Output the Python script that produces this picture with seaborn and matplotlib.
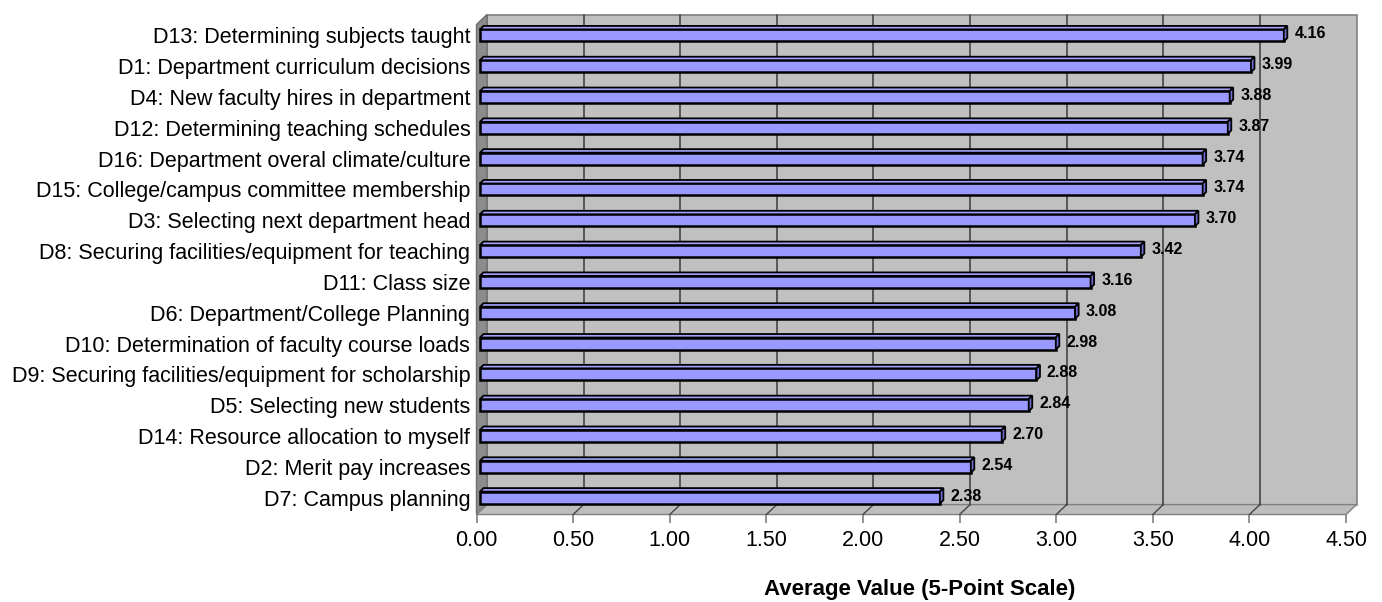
import matplotlib
matplotlib.use("Agg")
import matplotlib.pyplot as plt
from matplotlib.patches import Polygon, Rectangle
import pandas as pd
import seaborn as sns

# Decision areas and their mean ratings on a 5-point scale
items = [
    "D13: Determining subjects taught",
    "D1: Department curriculum decisions",
    "D4: New faculty hires in department",
    "D12: Determining teaching schedules",
    "D16: Department overal climate/culture",
    "D15: College/campus committee membership",
    "D3: Selecting next department head",
    "D8: Securing facilities/equipment for teaching",
    "D11: Class size",
    "D6: Department/College Planning",
    "D10: Determination of faculty course loads",
    "D9: Securing facilities/equipment for scholarship",
    "D5: Selecting new students",
    "D14: Resource allocation to myself",
    "D2: Merit pay increases",
    "D7: Campus planning",
]
averages = [4.16, 3.99, 3.88, 3.87, 3.74, 3.74, 3.70, 3.42,
            3.16, 3.08, 2.98, 2.88, 2.84, 2.70, 2.54, 2.38]
x_ticks = [0.0, 0.5, 1.0, 1.5, 2.0, 2.5, 3.0, 3.5, 4.0, 4.5]
x_title = "Average Value (5-Point Scale)"

sns.set_style("white")
plt.rcParams["font.family"] = ["Liberation Sans", "DejaVu Sans"]
plt.rcParams["text.color"] = "black"
plt.rcParams["axes.labelcolor"] = "black"
plt.rcParams["xtick.labelcolor"] = "black"
plt.rcParams["ytick.labelcolor"] = "black"

W, H = 1382, 602
fig = plt.figure(figsize=(W / 100, H / 100), dpi=100)

# front plane of the 3-D box, in pixels
left_px, right_px = 476.5, 1346.0
top_px, bot_px = 20.0, 513.0
ax = fig.add_axes([left_px / W, 1 - bot_px / H,
                   (right_px - left_px) / W, (bot_px - top_px) / H])

xmax = x_ticks[-1]
y_hi, y_lo = -0.355, len(items) - 1 + 0.55
ax.set_xlim(0, xmax)
ax.set_ylim(y_lo, y_hi)

px_x = (right_px - left_px) / xmax          # pixels per data unit
px_y = (bot_px - top_px) / (y_lo - y_hi)    # pixels per category step

# depth of walls and bars, converted to data units
wdx, wdy = 10.5 / px_x, -10.0 / px_y
bdx, bdy = 3.5 / px_x, -3.5 / px_y
shift = 3.5 / px_x

wall_c = "#C0C0C0"
edge_c = "#808080"
grid_c = "#454545"

# back wall
ax.add_patch(Rectangle((wdx, y_hi + wdy), xmax, y_lo - y_hi,
                       facecolor=wall_c, edgecolor=edge_c, lw=1.2,
                       clip_on=False, zorder=0))
# left side wall
ax.add_patch(Polygon([(0, y_lo), (0, y_hi), (wdx, y_hi + wdy), (wdx, y_lo + wdy)],
                     closed=True, facecolor="#8C8C8C", edgecolor="#6E6E6E", lw=1,
                     clip_on=False, zorder=1))
# floor
ax.add_patch(Polygon([(0, y_lo), (xmax, y_lo), (xmax + wdx, y_lo + wdy), (wdx, y_lo + wdy)],
                     closed=True, facecolor="#BDBDBD", edgecolor=edge_c, lw=1,
                     clip_on=False, zorder=1))

# gridlines on the back wall and across the floor
for t in x_ticks[1:-1]:
    ax.plot([t + wdx, t + wdx], [y_hi + wdy, y_lo + wdy], color=grid_c, lw=1.2,
            clip_on=False, zorder=2)
    ax.plot([t + wdx, t], [y_lo + wdy, y_lo], color=grid_c, lw=1.0,
            clip_on=False, zorder=2)

df = pd.DataFrame({"item": items, "avg": averages})
sns.barplot(data=df, y="item", x="avg", orient="h", color="#9999FF",
            saturation=1, width=0.39, edgecolor="black", linewidth=1.8,
            ax=ax, zorder=5)

bars = [p for p in ax.patches if p.get_zorder() == 5]
for p in bars:
    p.set_x(p.get_x() + shift)
    x, y, w, h = p.get_x(), p.get_y(), p.get_width(), p.get_height()
    top = Polygon([(x, y), (x + w, y), (x + w + bdx, y + bdy), (x + bdx, y + bdy)],
                  closed=True, facecolor="#A3A3FF", edgecolor="black", lw=1.3, zorder=5)
    side = Polygon([(x + w, y), (x + w, y + h), (x + w + bdx, y + h + bdy), (x + w + bdx, y + bdy)],
                   closed=True, facecolor="#6F6FD0", edgecolor="black", lw=1.3, zorder=5)
    ax.add_patch(top)
    ax.add_patch(side)

# value labels at the end of each bar
for i, v in enumerate(averages):
    ax.text(v + shift + bdx + 7 / px_x, i - 1.5 / px_y, f"{v:.2f}",
            fontsize=11.5, fontweight="bold", ha="left", va="center",
            color="black", zorder=6)

for s in ax.spines.values():
    s.set_visible(False)
ax.patch.set_visible(False)

ax.set_xticks(x_ticks)
ax.set_xticklabels([f"{t:.2f}" for t in x_ticks])
ax.tick_params(axis="x", bottom=True, length=7, width=1.2, color="#808080",
               direction="out", pad=5, labelsize=15.5)
ax.tick_params(axis="y", left=False, length=0, pad=4.5, labelsize=15.5)
ax.set_ylabel("")
ax.set_xlabel(x_title, fontsize=16, fontweight="bold")
ax.xaxis.label.set_va("center")
ax.xaxis.set_label_coords((920 - left_px) / (right_px - left_px),
                          (bot_px - 590) / (bot_px - top_px))

fig.savefig("out.png", dpi=100)
